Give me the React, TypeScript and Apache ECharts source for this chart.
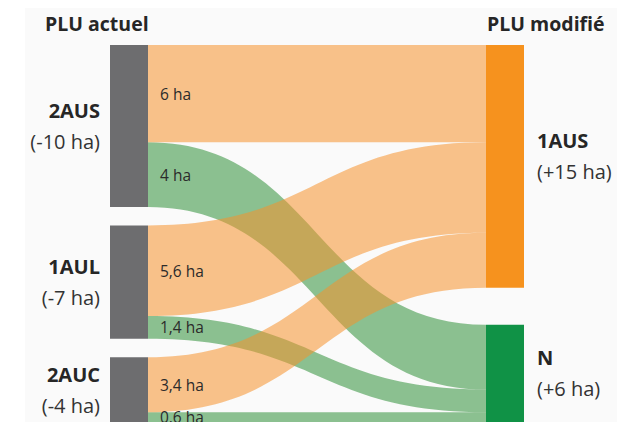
import React, { useEffect, useRef } from 'react';
import * as echarts from 'echarts';

const leftNodes = ['2AUS', '1AUL', '2AUC'];
const leftChanges = ['-10 ha', '-7 ha', '-4 ha'];
const rightNodes = ['1AUS', 'N'];
const rightChanges = ['+15 ha', '+6 ha'];
const linkSources = ['2AUS', '1AUL', '2AUC', '2AUS', '1AUL', '2AUC'];
const linkTargets = ['N', 'N', 'N', '1AUS', '1AUS', '1AUS'];
const linkValues = [4, 1.4, 0.6, 6, 5.6, 3.4];
const headers = ['PLU actuel', 'PLU modifié'];

const FONT = "'Open Sans', 'Noto Sans', sans-serif";
const GRAY = '#6d6d6f';
const nodeColors: Record<string, string> = { '1AUS': '#f6921e', N: '#109246' };
const linkColors: Record<string, string> = { '1AUS': '#f6922c', N: '#2f8f38' };
const labelOffsets: Record<string, number[]> = { '1AUS': [0, -10] };

const rich = {
  b: { fontSize: 20, fontWeight: 'bold', color: '#262626', lineHeight: 31, fontFamily: FONT },
  n: { fontSize: 20, color: '#333333', lineHeight: 31, fontFamily: FONT },
};

function buildOption(localYs: Record<string, number>, edgeLabels: any[]) {
  const nodes: any[] = [];
  leftNodes.forEach((name, i) => {
    nodes.push({
      name,
      itemStyle: { color: GRAY, borderWidth: 0 },
      label: {
        show: true,
        position: 'left',
        distance: 10,
        formatter: `{b|${name}}\n{n|(${leftChanges[i]})}`,
        rich,
      },
    });
  });
  rightNodes.forEach((name, i) => {
    const item: any = {
      name,
      itemStyle: { color: nodeColors[name], borderWidth: 0 },
      label: {
        show: true,
        position: 'right',
        distance: 13,
        offset: labelOffsets[name] || [0, 0],
        formatter: `{b|${name}}\n{n|(${rightChanges[i]})}`,
        rich,
      },
    };
    if (localYs[name] != null) item.localY = localYs[name];
    nodes.push(item);
  });
  const links = linkSources.map((s, i) => ({
    source: s,
    target: linkTargets[i],
    value: linkValues[i],
    lineStyle: { color: linkColors[linkTargets[i]], opacity: 0.55, curveness: 0.5 },
  }));
  return {
    animation: false,
    graphic: [
      { type: 'rect', z: 0, shape: { x: 25, y: 8, width: 592, height: 414 }, style: { fill: '#fafafa' } },
      {
        type: 'text', z: 100, x: 45, y: 23,
        style: { text: headers[0], font: `bold 19.5px ${FONT}`, fill: '#262626', textVerticalAlign: 'middle' },
      },
      {
        type: 'text', z: 100, x: 487, y: 23,
        style: { text: headers[1], font: `bold 19.5px ${FONT}`, fill: '#262626', textVerticalAlign: 'middle' },
      },
      ...edgeLabels,
    ],
    series: [
      {
        type: 'sankey',
        left: 110,
        right: 108,
        top: 45,
        bottom: 0,
        nodeWidth: 38,
        nodeGap: 18.5,
        layoutIterations: 0,
        draggable: false,
        emphasis: { disabled: true },
        data: nodes,
        links,
        label: { fontFamily: FONT },
      },
    ],
  };
}

export default function App() {
  const ref = useRef<HTMLDivElement>(null);
  useEffect(() => {
    if (!ref.current) return;
    const chart = echarts.init(ref.current, null, { renderer: 'svg' });
    chart.setOption(buildOption({}, []));
    try {
      const model: any = (chart as any).getModel();
      const series = model.getSeriesByIndex(0);
      const graph = series.getGraph();
      const info = series.layoutInfo;
      // place the last right-column node at the bottom of the layout area
      const localYs: Record<string, number> = {};
      const lastRight = rightNodes[rightNodes.length - 1];
      graph.nodes.forEach((node: any) => {
        if (node.id === lastRight) {
          const l = node.getLayout();
          localYs[node.id] = (info.height - l.dy) / info.height;
        }
      });
      const edgeLabels: any[] = [];
      graph.edges.forEach((edge: any) => {
        const n1 = edge.node1.getLayout();
        const el = edge.getLayout();
        const v = edge.getValue();
        edgeLabels.push({
          type: 'text',
          z: 100,
          x: info.x + n1.x + n1.dx + 12,
          y: info.y + n1.y + el.sy + el.dy / 2,
          style: {
            text: String(v).replace('.', ',') + ' ha',
            font: `15.5px ${FONT}`,
            fill: '#2b2b2b',
            textVerticalAlign: 'middle',
          },
        });
      });
      chart.setOption(buildOption(localYs, edgeLabels), true);
    } catch (e) {
      // keep first rendering
    }
    return () => chart.dispose();
  }, []);
  return (
    <div
      ref={ref}
      style={{ position: 'fixed', left: 0, top: 0, width: 632, height: 422, background: '#ffffff' }}
    />
  );
}
